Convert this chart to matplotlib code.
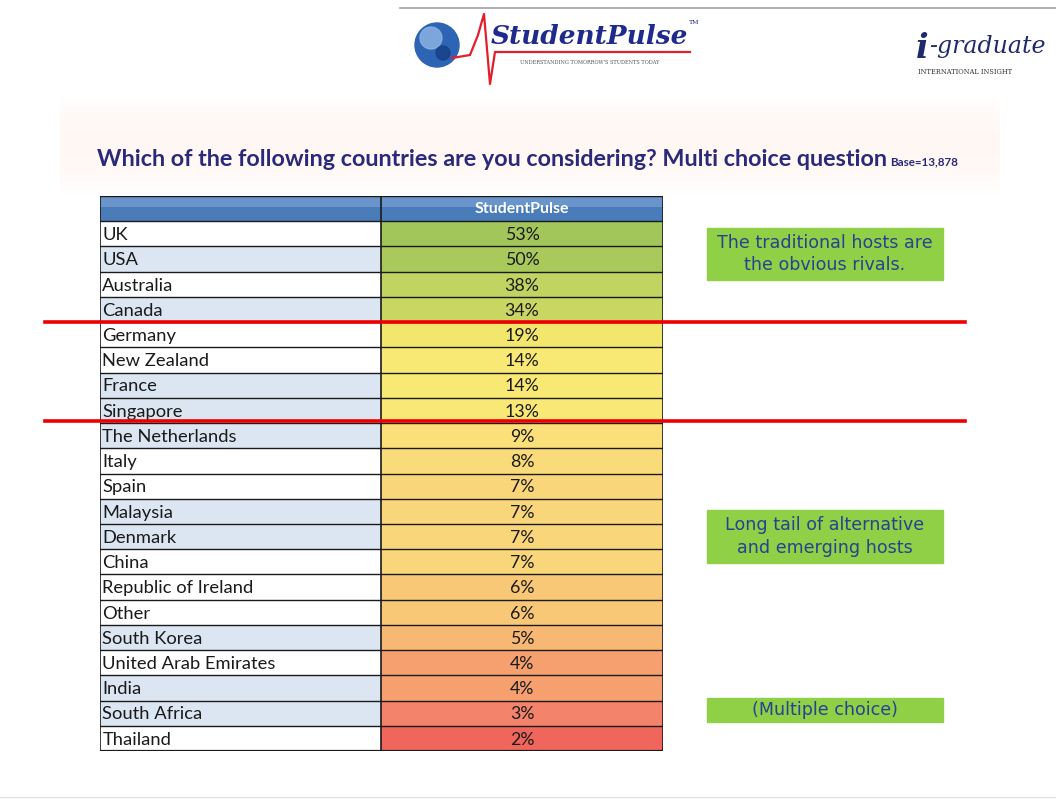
import numpy as np
import matplotlib
matplotlib.use("Agg")
import matplotlib.pyplot as plt
from matplotlib.patches import Rectangle, Circle
from matplotlib.colors import LinearSegmentedColormap

plt.rcParams['font.family'] = ['Lato', 'DejaVu Sans']

countries = ["UK", "USA", "Australia", "Canada", "Germany", "New Zealand", "France",
             "Singapore", "The Netherlands", "Italy", "Spain", "Malaysia", "Denmark",
             "China", "Republic of Ireland", "Other", "South Korea",
             "United Arab Emirates", "India", "South Africa", "Thailand"]
shares = [53, 50, 38, 34, 19, 14, 14, 13, 9, 8, 7, 7, 7, 7, 6, 6, 5, 4, 4, 3, 2]
# which label cells carry the pale blue fill
shaded = [0, 1, 0, 1, 0, 0, 1, 1, 1, 0, 0, 1, 1, 0, 0, 0, 1, 0, 1, 1, 0]
column_title = "StudentPulse"
title = "Which of the following countries are you considering? Multi choice question"
base_note = "Base=13,878"
notes = ["The traditional hosts are\nthe obvious rivals.",
         "Long tail of alternative\nand emerging hosts",
         "(Multiple choice)"]

W, H = 1056, 799
fig = plt.figure(figsize=(W / 100, H / 100), dpi=100)
fig.patch.set_facecolor("white")

# overlay in pixel coordinates for the slide furniture
bg = fig.add_axes([0, 0, 1, 1])
bg.set_xlim(0, W)
bg.set_ylim(H, 0)
bg.axis("off")
bg.set_zorder(0)

# faint peach band behind the title
band = np.linspace(0, 1, 100)[:, None]
bg.imshow(np.dstack([np.ones_like(band), 1 - 0.03 * np.sin(band * np.pi),
                     1 - 0.045 * np.sin(band * np.pi)]).repeat(2, 1),
          extent=[60, 1000, 195, 95], aspect="auto", zorder=0)

# top rule
bg.plot([400, W], [8, 8], color="#a0a0a0", lw=1.2)
bg.plot([0, W], [797, 797], color="#e4e4e4", lw=1)

# StudentPulse logo
bg.add_patch(Circle((437, 45), 22, color="#2d64b4", zorder=2))
bg.add_patch(Circle((431, 38), 11, color="#8fb6e6", zorder=2, alpha=0.8))
bg.add_patch(Circle((443, 53), 7, color="#163f86", zorder=2, alpha=0.8))
bg.plot([452, 470, 478, 484, 490, 495, 690], [58, 55, 35, 14, 84, 52, 52],
        color="#e0202a", lw=1.6, zorder=3)
bg.text(491, 44, "StudentPulse", family="DejaVu Serif", style="italic",
        weight="bold", fontsize=19, color="#1f2a8c", va="baseline", zorder=4)
bg.text(689, 24, "TM", family="DejaVu Serif", fontsize=4.5, color="#1f2a8c")
bg.text(590, 62, "UNDERSTANDING TOMORROW'S STUDENTS TODAY", family="DejaVu Serif",
        fontsize=3.6, color="#555555", ha="center", va="center")

# i-graduate logo
bg.text(916, 58, "i", family="DejaVu Serif", style="italic", weight="bold",
        fontsize=24, color="#1f2a6c", va="baseline")
bg.text(929, 53, "-graduate", family="DejaVu Serif", style="italic",
        fontsize=17, color="#1f2a6c", va="baseline")
bg.text(918, 72, "INTERNATIONAL INSIGHT", family="DejaVu Serif", fontsize=4.8,
        color="#333333", va="center")

# title
bg.text(97, 160, title, fontsize=16.8, weight="bold", color="#2b2a7a", va="center")
bg.text(890, 162, base_note, fontsize=8.4, weight="bold", color="#2b2a7a", va="center")

# green note boxes
for (y0, y1), txt in zip([(228, 280), (510, 563), (698, 722)], notes):
    bg.add_patch(Rectangle((707, y0), 236, y1 - y0, color="#8fd046", zorder=2))
    bg.text(825, (y0 + y1) / 2, txt, family="DejaVu Sans", fontsize=12.6,
            color="#25438f", ha="center", va="center", linespacing=1.3, zorder=3)

# table
tx0, tx1, ty0, ty1 = 100, 663, 196, 751
ax = fig.add_axes([tx0 / W, 1 - ty1 / H, (tx1 - tx0) / W, (ty1 - ty0) / H])
ax.set_zorder(1)
nrows = len(countries) + 1
ax.set_xlim(0, 1)
ax.set_ylim(nrows, 0)
ax.axis("off")
split = (381 - tx0) / (tx1 - tx0)

anchors = [2, 3, 4, 5, 6, 7, 9, 13, 19, 34, 53]
anchor_cols = ["#f0665c", "#f3836a", "#f5a06e", "#f7b873", "#f8c877", "#f9d67a",
               "#fbe07a", "#f9e876", "#f3e66c", "#c9d662", "#a3c65a"]
cmap = LinearSegmentedColormap.from_list(
    "slide", [((a - anchors[0]) / (anchors[-1] - anchors[0]), c)
              for a, c in zip(anchors, anchor_cols)])

# header
ax.add_patch(Rectangle((0, 0), 1, 1, facecolor="#4a7cba", edgecolor="none"))
ax.add_patch(Rectangle((0, 0), 1, 0.45, facecolor="#6a95ca", edgecolor="none"))
ax.text((split + 1) / 2, 0.5, column_title, color="white", weight="bold",
        fontsize=11.5, ha="center", va="center")

for i, (name, v, s) in enumerate(zip(countries, shares, shaded)):
    r = i + 1
    ax.add_patch(Rectangle((0, r), split, 1, facecolor="#dce6f2" if s else "white",
                           edgecolor="none"))
    ax.add_patch(Rectangle((split, r), 1 - split, 1,
                           facecolor=cmap((v - min(shares)) / (max(shares) - min(shares))),
                           edgecolor="none"))
    ax.text(0.004, r + 0.55, name, fontsize=13.2, color="#1a1a1a", va="center")
    ax.text((split + 1) / 2, r + 0.55, f"{v}%", fontsize=12.8, color="#1a1a1a",
            ha="center", va="center")

for r in range(nrows + 1):
    ax.plot([0, 1], [r, r], color="#1a1a1a", lw=1.0)
for x in [0, split, 1]:
    ax.plot([x, x], [0, nrows], color="#1a1a1a", lw=1.2)
ax.plot([0, 1], [nrows, nrows], color="#1a1a1a", lw=1.6)

# red separators above the table
top = fig.add_axes([0, 0, 1, 1])
top.set_xlim(0, W)
top.set_ylim(H, 0)
top.axis("off")
top.patch.set_alpha(0)
top.set_zorder(5)
for y in [322, 421]:
    top.plot([45, 965], [y, y], color="#ee0000", lw=2.6)

fig.savefig("out.png", dpi=100)
